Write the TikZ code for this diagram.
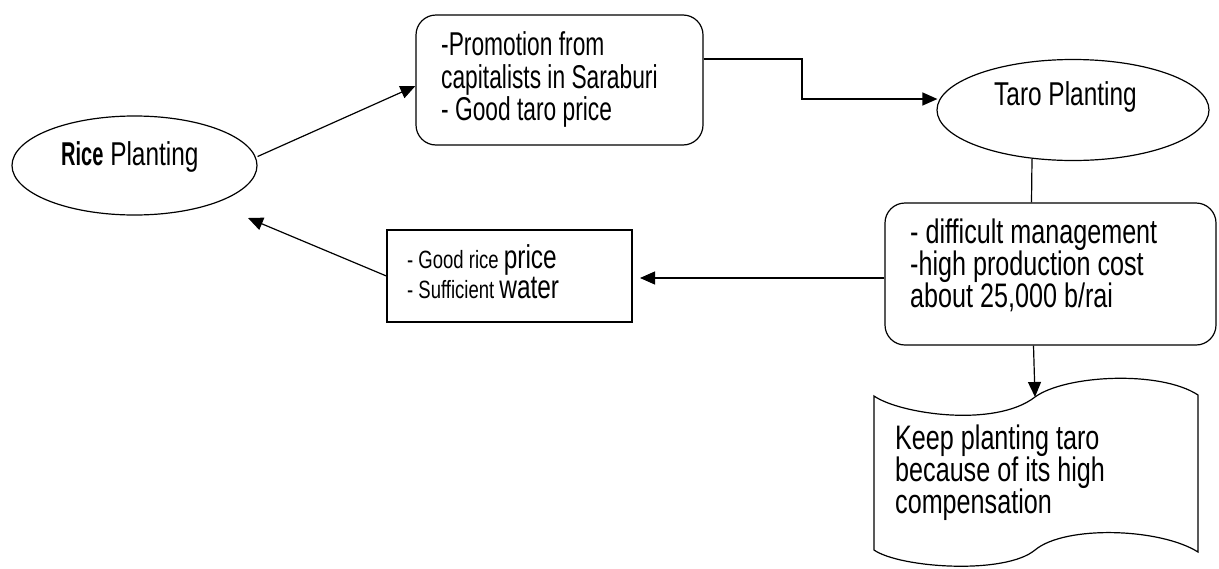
\documentclass[tikz,border=0pt]{standalone}
\usepackage{fontspec}
\setmainfont{Liberation Sans}[FakeStretch=0.74]
\newfontfamily\promofont{Liberation Sans}[FakeStretch=0.69]
\usepackage{graphicx}
\usetikzlibrary{shapes.geometric,arrows.meta,calc}
\tikzset{
  line/.style={line width=1.2pt, draw=black},
  arr/.style={line, -{Triangle[length=15pt,width=13pt]}},
  rbox/.style={line, rounded corners=20pt, inner sep=0pt},
  sbox/.style={line, inner sep=0pt},
  ell/.style={line, ellipse, inner sep=0pt},
  txt/.style={inner sep=0pt, align=left, text=black},
}
\begin{document}
\begin{tikzpicture}[x=1pt,y=-1pt]
\useasboundingbox (0,0) rectangle (1219,568);

% shapes
\node[ell, minimum width=245pt, minimum height=99pt] (rice) at (134.5,165.5) {};
\node[ell, minimum width=272pt, minimum height=101pt] (taro) at (1073,110) {};
\node[rbox, minimum width=287pt, minimum height=130pt] (promo) at (559.5,80) {};
\node[rbox, minimum width=331pt, minimum height=142pt] (diff) at (1050.5,274) {};
\node[sbox, minimum width=245pt, minimum height=92pt] (goodrice) at (509.5,276) {};

% wave (document) shape
\draw[line] (874,396) .. controls (900,414) and (995,428) .. (1035,397)
  .. controls (1065,375) and (1160,370) .. (1198,395) -- (1198,552)
  .. controls (1160,528) and (1065,525) .. (1035,550)
  .. controls (1005,575) and (900,568) .. (874,550) -- cycle;
\coordinate (wavetop) at (1035,397);

% texts
\node[txt, font=\fontsize{33}{32}\selectfont, anchor=base west] (ricetxt) at (61,165)
  {\scalebox{0.82}[1]{\bfseries Rice} Planting};
\node[txt, font=\fontsize{33}{32}\selectfont, anchor=base west] (tarotxt) at (994,105)
  {Taro Planting};
\node[txt, font=\promofont\fontsize{33}{32.5}\selectfont, anchor=north west] (promotxt) at (441,31.5)
  {-Promotion from\\capitalists in Saraburi\\- Good taro price};
\node[txt, font=\fontsize{34}{32}\selectfont, anchor=north west] (difftxt) at (910,219)
  {- difficult management\\-high production cost\\about 25,000 b/rai};
\node[txt, font=\fontsize{33}{30}\selectfont, anchor=north west] (goodtxt) at (407,244)
  {{\fontsize{25}{30}\selectfont - Good rice }price\\{\fontsize{25}{30}\selectfont - Sufficient }water};
\node[txt, font=\fontsize{34}{32}\selectfont, anchor=north west] (wavetxt) at (895,425)
  {Keep planting taro\\because of its high\\compensation};

% connectors
\coordinate (riceIn) at (248,218);
\coordinate (goodIn) at (640,278);
\draw[arr] ($(rice.east)+(0,-9)$) -- ($(promo.west)+(0,6)$);
\draw[arr] ($(promo.east)+(0,-21)$) -| (802,99) -- ($(taro.west)+(1,-11)$);
\draw[line] ($(diff.north)+(-19,0)$) -- ($(taro.south)+(-41,-2)$);
\draw[arr] (diff.west |- goodIn) -- (goodIn);
\draw[arr] (goodrice.west) -- (riceIn);
\draw[arr] ($(diff.south)+(-17,0)$) -- (wavetop);
\end{tikzpicture}
\end{document}
